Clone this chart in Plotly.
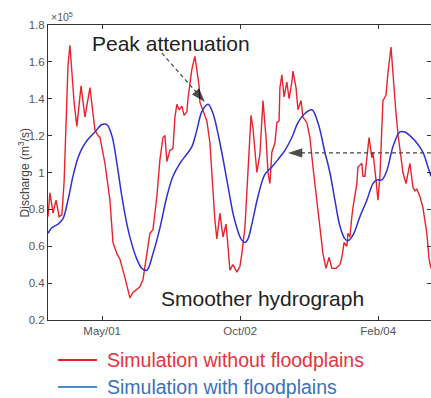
import plotly.graph_objects as go

# time axis: days since start of window
tick_days = [195, 692, 1189]
tick_labels = ["May/01", "Oct/02", "Feb/04"]
x_range = [0, 1379]

# Discharge (x10^5 m3/s) - simulation without floodplains
red_day = [0, 7, 18, 29, 40, 50, 58, 65, 72, 79,
           86, 94, 104, 119, 133, 151, 169, 180, 187, 205,
           223, 234, 248, 259, 277, 295, 306, 324, 331, 342,
           356, 367, 378, 392, 403, 414, 421, 428, 439, 450,
           457, 464, 472, 482, 490, 500, 504, 511, 518, 529,
           536, 544, 547, 558, 572, 583, 590, 594, 601, 608,
           619, 630, 641, 648, 655, 666, 680, 691, 698, 709,
           720, 731, 738, 745, 752, 763, 774, 785, 792, 799,
           806, 817, 824, 832, 835, 842, 850, 860, 868, 878,
           882, 893, 900, 911, 918, 932, 943, 954, 968, 979,
           990, 1001, 1012, 1022, 1037, 1051, 1058, 1066, 1076, 1080,
           1087, 1094, 1098, 1112, 1116, 1130, 1134, 1141, 1148, 1156,
           1166, 1170, 1181, 1188, 1195, 1202, 1206, 1217, 1224, 1235,
           1242, 1253, 1260, 1271, 1278, 1289, 1296, 1303, 1314, 1321,
           1328, 1339, 1350, 1364, 1372, 1379]
red_q = [0.76, 0.89, 0.78, 0.85, 0.76, 0.77, 0.95, 1.30, 1.58, 1.69,
         1.55, 1.38, 1.25, 1.47, 1.30, 1.46, 1.23, 1.20, 1.19, 1.05,
         0.85, 0.62, 0.56, 0.53, 0.43, 0.32, 0.35, 0.37, 0.38, 0.42,
         0.56, 0.67, 0.69, 0.87, 1.07, 1.19, 1.20, 1.06, 1.12, 1.13,
         1.30, 1.37, 1.34, 1.36, 1.31, 1.33, 1.40, 1.49, 1.56, 1.63,
         1.56, 1.47, 1.38, 1.34, 1.28, 1.16, 1.01, 0.87, 0.74, 0.64,
         0.78, 0.65, 0.72, 0.60, 0.47, 0.50, 0.46, 0.49, 0.56, 0.70,
         1.01, 1.31, 1.24, 1.11, 1.00, 1.10, 1.39, 1.19, 1.00, 0.94,
         1.11, 1.16, 1.27, 1.28, 1.46, 1.53, 1.41, 1.49, 1.40, 1.49,
         1.55, 1.46, 1.34, 1.39, 1.30, 1.27, 1.19, 1.03, 0.85, 0.69,
         0.56, 0.48, 0.54, 0.48, 0.48, 0.50, 0.54, 0.62, 0.60, 0.67,
         0.65, 0.76, 0.81, 0.94, 1.03, 1.05, 0.98, 0.98, 1.08, 1.19,
         1.08, 1.11, 0.96, 0.85, 0.98, 1.23, 1.39, 1.42, 1.54, 1.68,
         1.52, 1.32, 1.21, 1.07, 1.00, 0.94, 1.00, 1.05, 0.92, 0.90,
         0.91, 0.87, 0.81, 0.67, 0.53, 0.48]

# Discharge (x10^5 m3/s) - simulation with floodplains
blue_day = [0, 14, 36, 54, 72, 90, 108, 126, 144, 169,
            194, 212, 230, 248, 266, 284, 302, 320, 338, 356,
            378, 403, 428, 450, 475, 500, 518, 536, 554, 576,
            594, 619, 644, 666, 680, 695, 709, 720, 734, 756,
            781, 806, 828, 853, 878, 900, 925, 950, 972, 997,
            1015, 1033, 1051, 1069, 1080, 1098, 1123, 1148, 1170, 1184,
            1202, 1220, 1242, 1267, 1285, 1303, 1328, 1350, 1368, 1379]
blue_q = [0.67, 0.70, 0.72, 0.75, 0.85, 0.98, 1.08, 1.14, 1.18, 1.22,
          1.26, 1.26, 1.20, 1.05, 0.87, 0.72, 0.61, 0.53, 0.48, 0.47,
          0.56, 0.70, 0.87, 0.98, 1.05, 1.10, 1.14, 1.23, 1.33, 1.37,
          1.32, 1.16, 0.96, 0.78, 0.70, 0.64, 0.62, 0.64, 0.72, 0.87,
          0.99, 1.03, 1.07, 1.12, 1.19, 1.27, 1.32, 1.34, 1.27, 1.11,
          1.00, 0.85, 0.71, 0.64, 0.63, 0.66, 0.76, 0.85, 0.94, 0.96,
          0.96, 1.01, 1.14, 1.22, 1.22, 1.20, 1.16, 1.11, 1.03, 0.98]

y_ticks = [0.2, 0.4, 0.6, 0.8, 1.0, 1.2, 1.4, 1.6, 1.8]
y_tick_labels = ["0.2", "0.4", "0.6", "0.8", "1", "1.2", "1.4", "1.6", "1.8"]

series_names = ["Simulation without floodplains", "Simulation with floodplains"]

# annotation arrows: (start, tip) in (day, discharge)
peak_arrow_day = [410, 565]
peak_arrow_q = [1.648, 1.382]
smooth_arrow_day = [1379, 864]
smooth_arrow_q = [1.106, 1.106]

RED = "#e8232b"
BLUE = "#2f2fd2"
RED_TEXT = "#e8323c"
BLUE_TEXT = "#3a72b8"
BLUE_KEY = "#4a8fd4"
FONT = "Arial, Liberation Sans, sans-serif"

fig = go.Figure()
fig.add_trace(go.Scatter(
    x=red_day, y=red_q, mode="lines",
    line=dict(color=RED, width=1.4), name=series_names[0], showlegend=False))
fig.add_trace(go.Scatter(
    x=blue_day, y=blue_q, mode="lines",
    line=dict(color=BLUE, width=1.5, shape="spline", smoothing=1.0),
    name=series_names[1], showlegend=False))

# dashed arrows with filled heads
for ad, aq in [(peak_arrow_day, peak_arrow_q), (smooth_arrow_day, smooth_arrow_q)]:
    fig.add_trace(go.Scatter(
        x=ad, y=aq, mode="lines+markers", showlegend=False, hoverinfo="skip",
        line=dict(color="#444", width=1.2, dash="4px,3px"),
        marker=dict(symbol="arrow", size=[0, 15], angleref="previous",
                    color="#000", line=dict(width=0))))

fig.add_annotation(x=444, y=1.697, xref="x", yref="y", text="Peak attenuation",
                   showarrow=False, font=dict(family=FONT, size=21, color="#222"))
fig.add_annotation(x=772, y=0.319, xref="x", yref="y", text="Smoother hydrograph",
                   showarrow=False, font=dict(family=FONT, size=21, color="#222"))

# exponent label and y title
fig.add_annotation(x=0, y=1, xref="paper", yref="paper", xanchor="left", yanchor="bottom",
                   text="\u00d710<sup>5</sup>", showarrow=False, xshift=1,
                   font=dict(family=FONT, size=10.5, color="#555"))
fig.add_annotation(x=-0.089, y=0.5, xref="paper", yref="paper", textangle=-90,
                   text="Discharge (m<sup>3</sup>/s)", showarrow=False,
                   font=dict(family=FONT, size=12, color="#444"))

# key below the axes (drawn manually so it does not push the plot area)
key_rows = [(-0.1356, RED, RED_TEXT, series_names[0]),
            (-0.2271, BLUE_KEY, BLUE_TEXT, series_names[1])]
for ky, lc, tc, label in key_rows:
    fig.add_shape(type="line", xref="paper", yref="paper",
                  x0=0.026, x1=0.128, y0=ky, y1=ky,
                  line=dict(color=lc, width=1.8))
    fig.add_annotation(x=0.149, y=ky, xref="paper", yref="paper",
                       xanchor="left", yanchor="middle", text=label, showarrow=False,
                       font=dict(family=FONT, size=19.5, color=tc))

axis_common = dict(showline=True, linecolor="#333", linewidth=1, mirror="ticks",
                   ticks="inside", ticklen=4, tickcolor="#333", showgrid=False,
                   zeroline=False, tickfont=dict(family=FONT, size=11.5, color="#555"))

fig.update_layout(
    width=431, height=398,
    margin=dict(l=48, r=0, t=25, b=78, autoexpand=False),
    paper_bgcolor="white", plot_bgcolor="white",
    xaxis=dict(range=x_range, tickvals=tick_days, ticktext=tick_labels, **axis_common),
    yaxis=dict(range=[0.2, 1.8], tickvals=y_ticks, ticktext=y_tick_labels, **axis_common),
    showlegend=False,
)

fig.write_html("out.html")
